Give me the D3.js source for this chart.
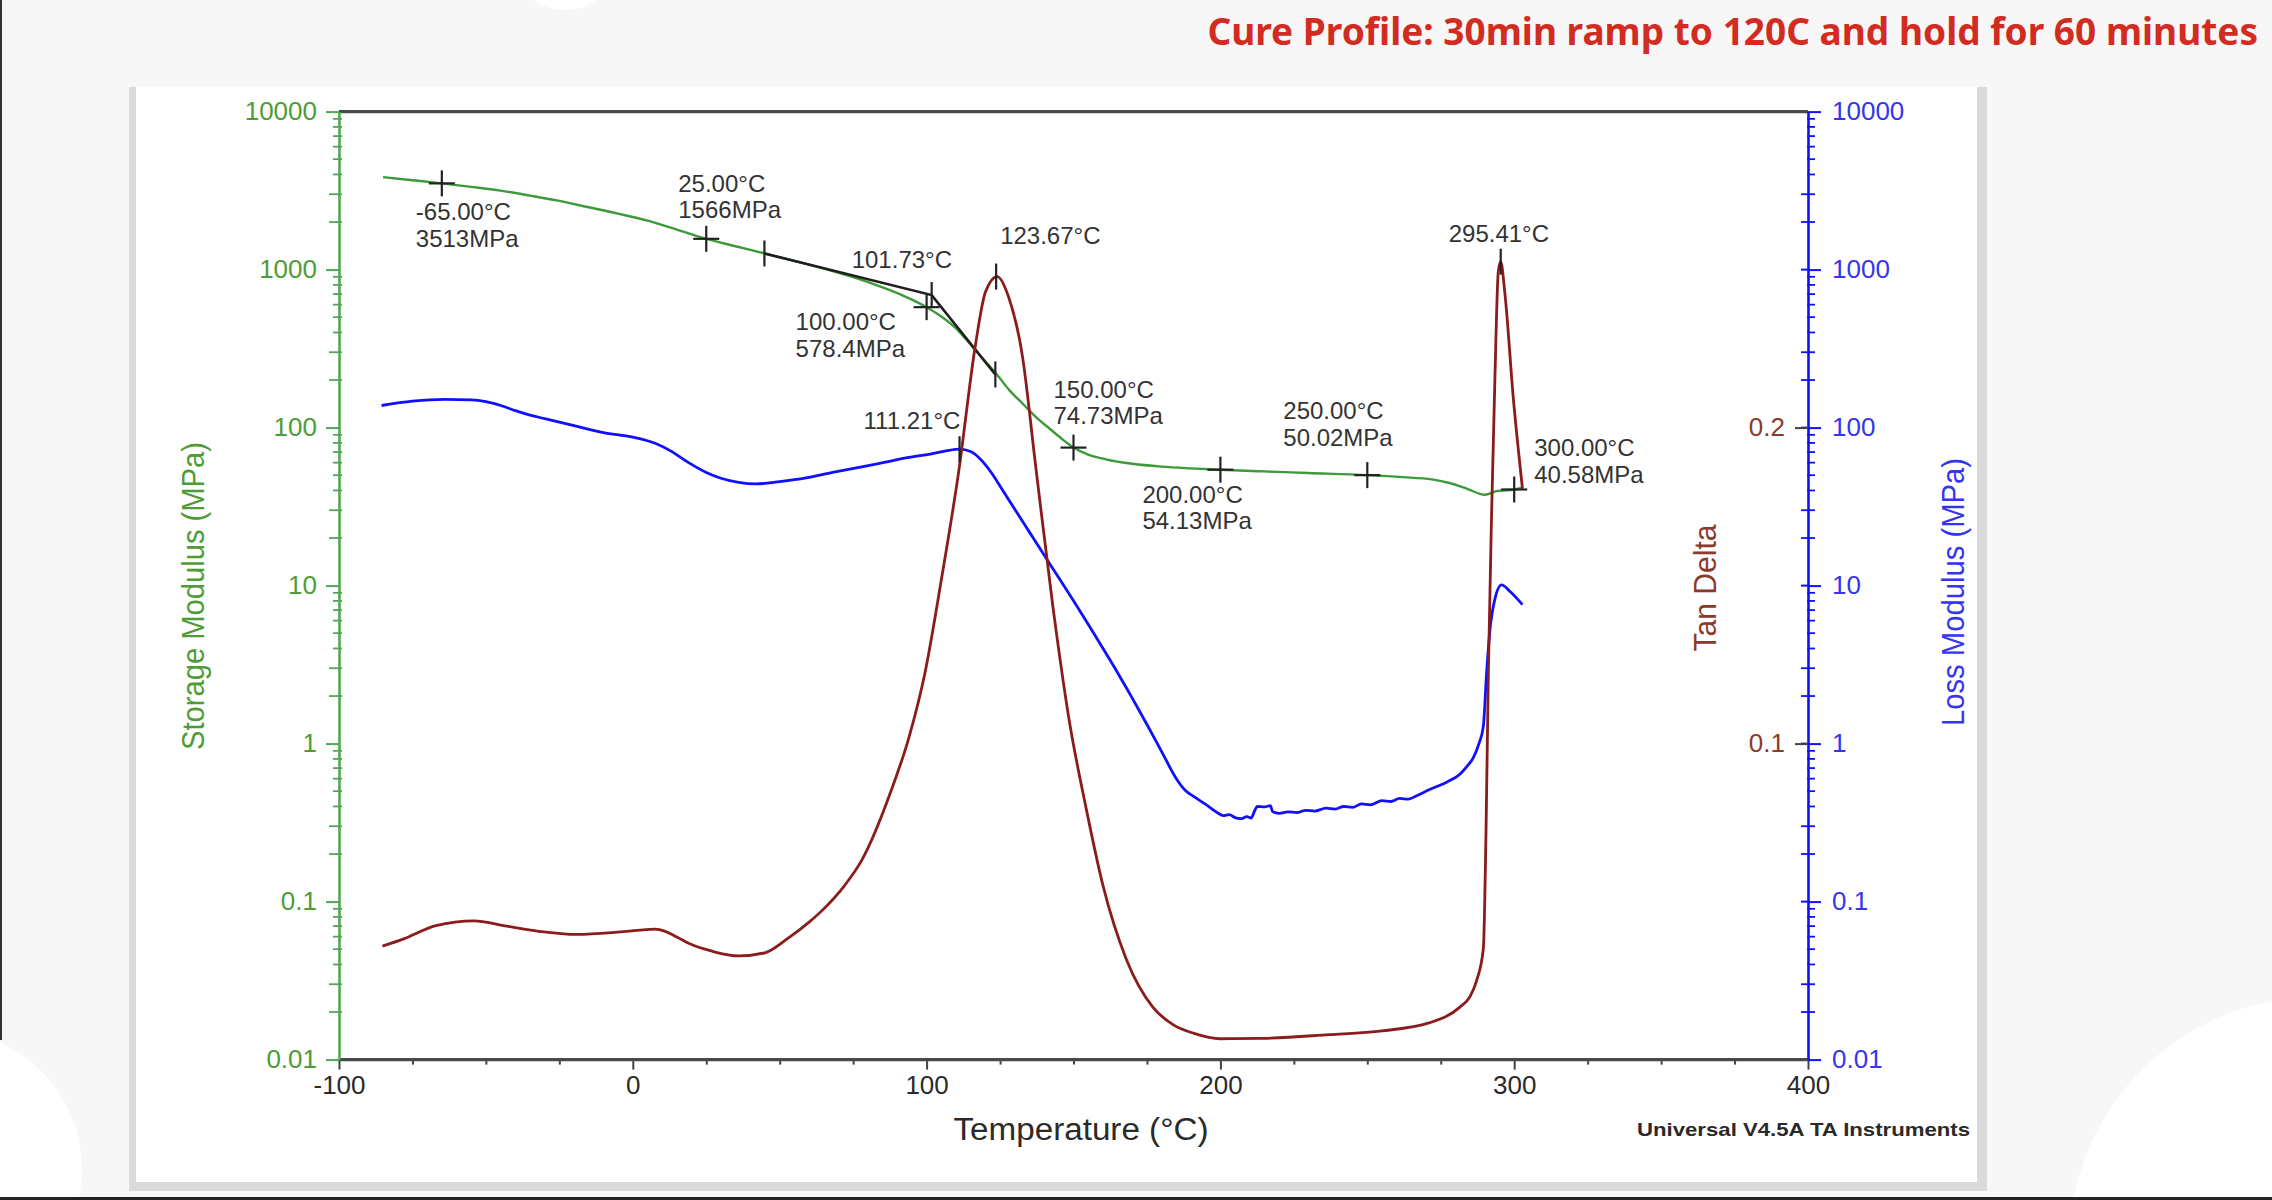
<!DOCTYPE html>
<html><head><meta charset="utf-8">
<script src="https://cdn.jsdelivr.net/npm/d3@7/dist/d3.min.js"></script>
<style>html,body{margin:0;padding:0;background:#f7f7f7;overflow:hidden}svg{display:block}</style>
</head><body><svg id="c" width="2272" height="1200"></svg>
<script>
// ---------------- DATA ----------------
const titleText = "Cure Profile: 30min ramp to 120C and hold for 60 minutes";
const xTickValues = [-100, 0, 100, 200, 300, 400];
const logTickValues = [0.01, 0.1, 1, 10, 100, 1000, 10000];
const logTickLabels = ["0.01", "0.1", "1", "10", "100", "1000", "10000"];
const tanTickValues = [0.1, 0.2];
const tanTickLabels = ["0.1", "0.2"];

const storageT   = [-85,-75,-65,-55,-45,-35,-25,-15,-5,5,15,25,35,45,55,65,75,85,92,100,105,110,115,120,124,128,133,138,142,146,150,155,161,170,180,190,200,215,230,250,262,272,278,284,290,294,300,303];
const storageMPa = [3850,3680,3513,3340,3160,2940,2720,2480,2260,2040,1790,1566,1405,1265,1135,1015,895,772,685,578.4,505,425,335,262,216,174,140,113,98,85,74.73,67.5,63,59,56.6,55.2,54.13,52.8,51.6,50.02,48.6,47,44.6,41,37.6,39.6,40.58,41.6];

const lossT   = [-85.5,-75,-64,-55,-50,-45,-40,-35,-30,-20,-10,0,8,13,19,25,30,36,42,50,59,68,77,86,94,102,107,111.21,115,118,122,126,131,135,140,145,150,155,160,165,170,175,180,185,188,191,195,199,201,203,205,207,209,210.5,211.5,212.6,215,217,217.8,220,223,226,229,232,236,239,242,245,248,251,255,258,261,264,267,271,277,281.5,284,286,288,289.5,290.6,291.7,293.4,295.7,298.5,302.8];
const lossMPa = [138,147,151,150,146,138,128,120,114,103,93,87,79,71,60,52,47.8,45,44,45.5,48,52,56,60.5,64.7,68.5,71.5,73,70.5,64,52,39.8,28.5,21.8,15.6,11.2,8.02,5.69,4.01,2.81,1.94,1.32,0.89,0.60,0.507,0.462,0.412,0.365,0.35,0.355,0.34,0.335,0.345,0.338,0.37,0.40,0.398,0.405,0.37,0.362,0.37,0.366,0.378,0.374,0.39,0.385,0.40,0.395,0.415,0.41,0.436,0.43,0.45,0.445,0.47,0.51,0.57,0.64,0.72,0.81,1.0,1.29,2.78,5.15,8.18,10.1,9.2,7.57];

const tanT     = [-85.2,-78,-67,-54,-44,-32,-19,-4,7.5,11,15,19,27,36,45,53,60,65,72,78,88,94,99.4,105.1,110.9,116.6,120,124,128,132.6,137.1,142.9,148.6,154.3,160,168,177,184,191,200,214,237,255,271,281.5,285,287.2,289.5,290.4,291.2,292.3,293.4,294.6,295.41,296.8,299.7,302.8];
const tanDelta = [0.0359,0.0382,0.0424,0.0439,0.0424,0.0406,0.0396,0.0404,0.0413,0.0406,0.0388,0.0368,0.0343,0.0328,0.0338,0.0385,0.0435,0.0477,0.055,0.0632,0.0853,0.102,0.1222,0.1523,0.1859,0.226,0.2428,0.2478,0.2411,0.2227,0.1880,0.1440,0.1070,0.0795,0.0552,0.0317,0.0166,0.011,0.0083,0.0066,0.0067,0.0079,0.0091,0.0116,0.0166,0.020,0.025,0.0351,0.0719,0.1222,0.1724,0.2143,0.2495,0.2525,0.2428,0.2093,0.1808];

// onset tangent construction
const tangentT   = [44.8, 101.73, 123.4];
const tangentMPa = [1265, 690, 217];

// cursor points on storage modulus
const crossT      = [-65, 25, 100, 150, 200, 250, 300];
const crossMPa    = [3513, 1566, 578.4, 74.73, 54.13, 50.02, 40.58];
const crossTempLabels = ["-65.00°C", "25.00°C", "100.00°C", "150.00°C", "200.00°C", "250.00°C", "300.00°C"];
const crossValLabels  = ["3513MPa", "1566MPa", "578.4MPa", "74.73MPa", "54.13MPa", "50.02MPa", "40.58MPa"];

// vertical tick markers: series, temperature, value, label
const vtickSeries = ["tangent", "tangent", "tangent", "loss", "tan", "tan"];
const vtickT      = [44.8, 101.73, 123.4, 111.21, 123.67, 295.41];
const vtickValue  = [1265, 690, 217, 73, 0.2478, 0.2525];
const vtickLabels = ["", "101.73°C", "", "111.21°C", "123.67°C", "295.41°C"];

// ---------------- LAYOUT (pixels) ----------------
const crossLabelOffset = [[-26,37],[-28,-47],[-131,23],[-20,-50],[-78,33],[-84,-56],[20,-33]];
const vtickLabelOffset = [[0,0],[-80,-27],[0,0],[-96,-20],[4,-33],[-52,-20]];
const L = 339, R = 1808, T0 = 111.6, B0 = 1059.6;

const C = {
  green: "#3c9a3a", greenAxis: "#52a852", greenText: "#4e9c35",
  blue: "#1010ff", blueText: "#3535f0",
  brown: "#8a1c1c", brownText: "#8b3a2c",
  dark: "#2a2a2a"
};
const FONT = "'Liberation Sans', Arial, sans-serif";

const svg = d3.select("#c");

// ---------- background / slide ----------
svg.append("rect").attr("width", 2272).attr("height", 1200).attr("fill", "#f7f7f7");
svg.append("circle").attr("cx", -58).attr("cy", 1170).attr("r", 140).attr("fill", "#fff");
svg.append("circle").attr("cx", 2318).attr("cy", 1246).attr("r", 249).attr("fill", "#fff");
svg.append("ellipse").attr("cx", 565).attr("cy", -20).attr("rx", 42).attr("ry", 30).attr("fill", "#fff");
svg.append("rect").attr("x", 0).attr("y", 0).attr("width", 2).attr("height", 1040).attr("fill", "#333");
svg.append("rect").attr("x", 0).attr("y", 1197).attr("width", 2272).attr("height", 3).attr("fill", "#222");

// card with shadow
svg.append("rect").attr("x", 129).attr("y", 87).attr("width", 1858).attr("height", 1104).attr("fill", "#dadada");
svg.append("rect").attr("x", 136).attr("y", 87).attr("width", 1841).attr("height", 1095).attr("fill", "#ffffff");

// title (condensed horizontally to the reference width)
const titleG = svg.append("g");
const titleEl = titleG.append("text").attr("x", 0).attr("y", 0).attr("text-anchor", "end")
  .attr("font-family", "'Noto Sans', 'Open Sans', sans-serif").attr("font-weight", 700)
  .attr("font-size", 38).attr("fill", "#d22c22")
  .text(titleText);
const natW = titleEl.node().getComputedTextLength();
titleG.attr("transform", `translate(2258,45) scale(${1051 / natW},1)`);

// ---------- scales ----------
const x = d3.scaleLinear().domain([-100, 400]).range([L, R]);
const yLog = d3.scaleLog().domain([0.01, 10000]).range([B0, T0]);
const yTan = d3.scaleLinear().domain([0, 0.3]).range([B0, T0]);

// minor log ticks
const minorLog = [];
logTickValues.slice(0, -1).forEach(d => { for (let m = 2; m <= 9; m++) minorLog.push(d * m); });
const mant = d => Math.round(d / Math.pow(10, Math.floor(Math.log10(d) + 1e-9)));

// ---------- x axis ----------
const gx = svg.append("g").attr("transform", `translate(0,${B0})`)
  .call(d3.axisBottom(x).tickValues(xTickValues).tickFormat(d => String(d)).tickSize(10).tickSizeOuter(0).tickPadding(6));
gx.select(".domain").remove();
gx.selectAll(".tick line").attr("stroke", "#444").attr("stroke-width", 2);
gx.selectAll(".tick text").attr("font-family", FONT).attr("font-size", 26).attr("fill", C.dark);
const gxm = svg.append("g").attr("transform", `translate(0,${B0})`)
  .call(d3.axisBottom(x).tickValues(d3.range(-75, 400, 25).filter(v => v % 100 !== 0)).tickSize(5).tickFormat(""));
gxm.select(".domain").remove();
gxm.selectAll(".tick line").attr("stroke", "#444").attr("stroke-width", 2);

// frame lines: top and bottom
svg.append("line").attr("x1", L).attr("x2", R).attr("y1", T0).attr("y2", T0).attr("stroke", "#4a4a4a").attr("stroke-width", 3.2);
svg.append("line").attr("x1", L).attr("x2", R).attr("y1", B0).attr("y2", B0).attr("stroke", "#4a4a4a").attr("stroke-width", 3.2);

// ---------- left axis (storage) ----------
const gl = svg.append("g").attr("transform", `translate(${L},0)`)
  .call(d3.axisLeft(yLog).tickValues(logTickValues).tickFormat((d, i) => logTickLabels[i]).tickSize(13).tickSizeOuter(0).tickPadding(9));
gl.select(".domain").attr("stroke", C.greenAxis).attr("stroke-width", 2.6);
gl.selectAll(".tick line").attr("stroke", C.greenAxis).attr("stroke-width", 2);
gl.selectAll(".tick text").attr("font-family", FONT).attr("font-size", 26).attr("fill", C.greenText);
svg.append("g").selectAll("line").data(minorLog).join("line")
  .attr("x1", d => mant(d) <= 3 ? L - 10 : L - 6)
  .attr("x2", L + 3)
  .attr("y1", d => yLog(d)).attr("y2", d => yLog(d))
  .attr("stroke", C.greenAxis).attr("stroke-width", 1.8);

// ---------- right axis (loss) ----------
const gr = svg.append("g").attr("transform", `translate(${R},0)`)
  .call(d3.axisRight(yLog).tickValues(logTickValues).tickFormat((d, i) => logTickLabels[i]).tickSize(13).tickSizeOuter(0).tickPadding(11));
gr.select(".domain").attr("stroke", C.blue).attr("stroke-width", 2.6);
gr.selectAll(".tick line").attr("stroke", C.blue).attr("stroke-width", 2);
gr.selectAll(".tick text").attr("font-family", FONT).attr("font-size", 26).attr("fill", C.blueText);
svg.append("g").selectAll("line").data(minorLog).join("line")
  .attr("x1", d => mant(d) <= 3 ? R - 7 : R - 1)
  .attr("x2", R + 7)
  .attr("y1", d => yLog(d)).attr("y2", d => yLog(d))
  .attr("stroke", C.blue).attr("stroke-width", 1.8);
svg.append("g").selectAll("line").data(logTickValues.slice(1, -1)).join("line")
  .attr("x1", R - 7).attr("x2", R)
  .attr("y1", d => yLog(d)).attr("y2", d => yLog(d))
  .attr("stroke", C.blue).attr("stroke-width", 2);

// ---------- tan delta axis ----------
const gt = svg.append("g").attr("transform", `translate(${R},0)`)
  .call(d3.axisLeft(yTan).tickValues(tanTickValues).tickFormat((d, i) => tanTickLabels[i]).tickSize(13).tickSizeOuter(0).tickPadding(10));
gt.select(".domain").remove();
gt.selectAll(".tick line").attr("stroke", "#444").attr("stroke-width", 2);
gt.selectAll(".tick text").attr("font-family", FONT).attr("font-size", 26).attr("fill", C.brownText);

// ---------- axis titles ----------
function vtitle(cx, cy, txt, len, fill) {
  svg.append("text").attr("transform", `translate(${cx},${cy}) rotate(-90)`)
    .attr("text-anchor", "middle").attr("dy", "0.36em")
    .attr("font-family", FONT).attr("font-size", 31).attr("fill", fill)
    .attr("textLength", len).attr("lengthAdjust", "spacingAndGlyphs").text(txt);
}
vtitle(193, 596, "Storage Modulus (MPa)", 308, C.greenText);
vtitle(1705, 588, "Tan Delta", 127, C.brownText);
vtitle(1953, 592, "Loss Modulus (MPa)", 268, C.blueText);

svg.append("text").attr("x", 1081).attr("y", 1140).attr("text-anchor", "middle")
  .attr("font-family", FONT).attr("font-size", 31).attr("fill", C.dark)
  .attr("textLength", 255).attr("lengthAdjust", "spacingAndGlyphs").text("Temperature (°C)");
svg.append("text").attr("x", 1637).attr("y", 1136)
  .attr("font-family", FONT).attr("font-size", 19).attr("font-weight", 700).attr("fill", C.dark)
  .attr("textLength", 333).attr("lengthAdjust", "spacingAndGlyphs").text("Universal V4.5A TA Instruments");

// ---------- curves ----------
const lineLog = d3.line().x(d => x(d[0])).y(d => yLog(d[1])).curve(d3.curveMonotoneX);
const lineTan = d3.line().x(d => x(d[0])).y(d => yTan(d[1])).curve(d3.curveMonotoneX);

svg.append("path").datum(lossT.map((t, i) => [t, lossMPa[i]])).attr("d", lineLog)
  .attr("fill", "none").attr("stroke", C.blue).attr("stroke-width", 2.8).attr("stroke-linejoin", "round");
svg.append("path").datum(storageT.map((t, i) => [t, storageMPa[i]])).attr("d", lineLog)
  .attr("fill", "none").attr("stroke", C.green).attr("stroke-width", 2.4).attr("stroke-linejoin", "round");
svg.append("path").datum(tangentT.map((t, i) => [t, tangentMPa[i]]))
  .attr("d", d3.line().x(d => x(d[0])).y(d => yLog(d[1])))
  .attr("fill", "none").attr("stroke", "#1e1e1e").attr("stroke-width", 2.6);
svg.append("path").datum(tanT.map((t, i) => [t, tanDelta[i]])).attr("d", lineTan)
  .attr("fill", "none").attr("stroke", C.brown).attr("stroke-width", 2.8).attr("stroke-linejoin", "round");

// ---------- markers ----------
const ARM = 13;
const gm = svg.append("g").attr("stroke", "#222").attr("stroke-width", 2.2);
crossT.forEach((t, i) => {
  const px = x(t), py = yLog(crossMPa[i]);
  gm.append("line").attr("x1", px - ARM).attr("x2", px + ARM).attr("y1", py).attr("y2", py);
  gm.append("line").attr("x1", px).attr("x2", px).attr("y1", py - ARM).attr("y2", py + ARM);
});
function vy(i) { return vtickSeries[i] === "tan" ? yTan(vtickValue[i]) : yLog(vtickValue[i]); }
vtickT.forEach((t, i) => {
  const px = x(t), py = vy(i);
  gm.append("line").attr("x1", px).attr("x2", px).attr("y1", py - ARM).attr("y2", py + ARM);
});

// ---------- annotation labels ----------
const ga = svg.append("g").attr("font-family", FONT).attr("font-size", 24).attr("fill", "#333");
crossT.forEach((t, i) => {
  const px = x(t) + crossLabelOffset[i][0], py = yLog(crossMPa[i]) + crossLabelOffset[i][1];
  ga.append("text").attr("x", px).attr("y", py).text(crossTempLabels[i]);
  ga.append("text").attr("x", px).attr("y", py + 26.5).text(crossValLabels[i]);
});
vtickT.forEach((t, i) => {
  if (!vtickLabels[i]) return;
  ga.append("text").attr("x", x(t) + vtickLabelOffset[i][0]).attr("y", vy(i) + vtickLabelOffset[i][1]).text(vtickLabels[i]);
});
</script>
</body></html>
